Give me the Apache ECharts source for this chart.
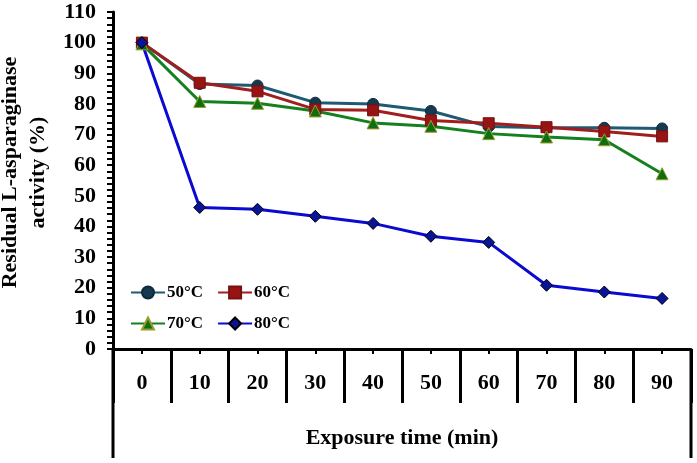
<!DOCTYPE html>
<html>
<head>
<meta charset="utf-8">
<script src="https://cdn.jsdelivr.net/npm/echarts@6/dist/echarts.min.js"></script>
<style>html,body{margin:0;padding:0;background:#fff}#c{width:697px;height:463px}</style>
</head>
<body>
<div id="c"></div>
<script>
var categories = ['0','10','20','30','40','50','60','70','80','90'];
var s50 = [100, 86.5, 86.0, 80.4, 80.0, 77.7, 72.6, 72.2, 72.2, 72.0];
var s60 = [100, 86.9, 84.1, 78.2, 77.9, 74.6, 73.7, 72.4, 71.0, 69.4];
var s70 = [99.6, 80.8, 80.2, 77.7, 73.8, 72.7, 70.3, 69.2, 68.3, 57.2];
var s80 = [100, 46.2, 45.6, 43.3, 41.0, 36.8, 34.8, 20.8, 18.6, 16.5];
var names = ['50°C','60°C','70°C','80°C'];

var G = {left:113, top:12, right:6, bottom:114};
var W = 697, H = 463;
var font = 'Liberation Serif';
var chart = echarts.init(document.getElementById('c'));

function ser(name, data, lineColor, mColor, mBorder, symbol, size){
  return {name:name, type:'line', data:data, symbol:symbol, symbolSize:size,
    lineStyle:{color:lineColor, width:3},
    itemStyle:{color:mColor, borderColor:mBorder, borderWidth:1},
    emphasis:{disabled:true}, z:3};
}
var axisX = G.left, axisR = W - G.right, axisY = H - G.bottom;
chart.setOption({
  animation:false,
  backgroundColor:'#fff',
  grid:{left:G.left, top:G.top, right:G.right, bottom:G.bottom, containLabel:false, outerBoundsMode:'none'},
  legend:{left:125, top:279, width:180, itemWidth:34, itemHeight:15, itemGap:14,
    textStyle:{fontFamily:font, fontWeight:'bold', fontSize:17, color:'#000', width:44, padding:[0,0,0,-3]},
    data:names},
  xAxis:[{type:'category', data:categories, boundaryGap:true,
    axisLine:{lineStyle:{color:'#000', width:3}},
    axisTick:{show:true, alignWithLabel:false, length:54, lineStyle:{color:'#000', width:3}},
    axisLabel:{fontFamily:font, fontWeight:'bold', fontSize:22, color:'#000', margin:23},
    name:'Exposure time (min)', nameLocation:'middle', nameGap:78,
    nameTextStyle:{fontFamily:font, fontWeight:'bold', fontSize:22, color:'#000', verticalAlign:'top'}},
   {type:'category', data:categories, boundaryGap:true, position:'bottom',
    axisLine:{show:false},
    axisTick:{show:true, alignWithLabel:true, length:5, lineStyle:{color:'#000', width:2}},
    axisLabel:{show:false}}],
  yAxis:{type:'value', min:0, max:110, interval:10,
    axisLine:{show:true, lineStyle:{color:'#000', width:3}},
    axisTick:{show:true, length:6, lineStyle:{color:'#000', width:2}},
    minorTick:{show:true, splitNumber:5, length:6, lineStyle:{color:'#000', width:2}},
    splitLine:{show:false},
    axisLabel:{fontFamily:font, fontWeight:'bold', fontSize:22, color:'#000', margin:17},
    name:'Residual L-asparaginase\nactivity (%)', nameLocation:'middle', nameRotate:90, nameGap:53,
    nameTextStyle:{fontFamily:font, fontWeight:'bold', fontSize:22, color:'#000', lineHeight:28, padding:[0,0,0,16]}},
  graphic:[
    {type:'line', shape:{x1:axisX, y1:axisY, x2:axisX, y2:458}, style:{stroke:'#000', lineWidth:3}},
    {type:'line', shape:{x1:axisR, y1:axisY, x2:axisR, y2:458}, style:{stroke:'#000', lineWidth:3}}
  ],
  series:[
    ser(names[0], s50, '#1F5A73', '#15394F', '#0d2a3a', 'circle', 11),
    ser(names[1], s60, '#A01E1E', '#961414', '#7a1010', 'rect', 11),
    ser(names[2], s70, '#14801E', '#0E6E12', '#9c9c2a', 'triangle', 12),
    ser(names[3], s80, '#0A0AD0', '#0A1496', '#000000', 'diamond', 12)
  ]
});
</script>
</body>
</html>
